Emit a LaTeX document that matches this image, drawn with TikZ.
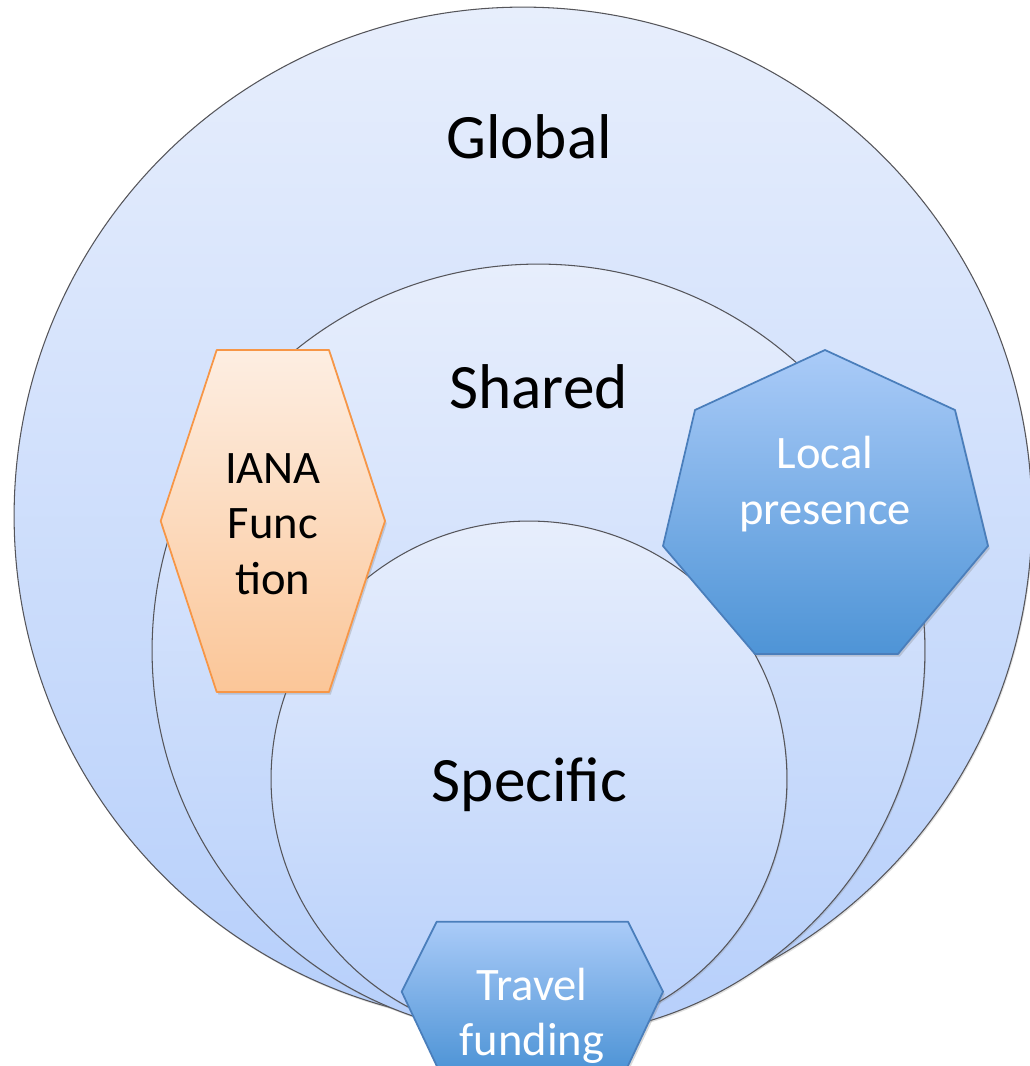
\documentclass[tikz,border=0pt]{standalone}
\usepackage{fontspec}
\setmainfont{Carlito}
\usetikzlibrary{shadows}

\definecolor{ringtop}{RGB}{231,238,252}
\definecolor{ringbot}{RGB}{182,207,251}
\definecolor{ringline}{RGB}{85,85,90}
\definecolor{ianatop}{RGB}{253,238,226}
\definecolor{ianabot}{RGB}{251,198,152}
\definecolor{ianaline}{RGB}{247,150,70}
\definecolor{bluetop}{RGB}{170,203,248}
\definecolor{bluebot}{RGB}{78,148,214}
\definecolor{blueline}{RGB}{74,126,187}

\begin{document}
\begin{tikzpicture}[x=0.02cm, y=-0.02cm,
  ring/.style={circle, draw=ringline, line width=0.6pt, top color=ringtop, bottom color=ringbot, inner sep=0pt, outer sep=0pt, drop shadow={shadow xshift=0.6pt, shadow yshift=-1pt, opacity=0.25}},
  bigtext/.style={font=\fontsize{36}{40}\selectfont, anchor=base},
  ianashape/.style={draw=ianaline, line width=1pt, line join=round, top color=ianatop, bottom color=ianabot, drop shadow={shadow xshift=1pt, shadow yshift=-1.5pt, opacity=0.3}},
  blueshape/.style={draw=blueline, line width=1pt, line join=round, top color=bluetop, bottom color=bluebot, drop shadow={shadow xshift=1pt, shadow yshift=-1.5pt, opacity=0.3}},
  smalltext/.style={font=\fontsize{26.5}{31.5}\selectfont, align=center}]
\useasboundingbox (0,0) rectangle (1030,1066);
\clip (0,0) rectangle (1030,1066);

% nested circles
\node[ring, minimum size=20.36cm] (global) at (523,516) {};
\node[ring, minimum size=15.46cm] (shared) at (538.5,650.5) {};
\node[ring, minimum size=10.32cm] (specific) at (529,779) {};

\node[bigtext] (globaltext) at (529,158) {Global};
\node[bigtext] (sharedtext) at (538.5,408) {Shared};
\node[bigtext] (specifictext) at (529.5,801) {Specific};

% IANA
\draw[ianashape] (216.7,350) -- (329,350) -- (385,521) -- (329,692) -- (216.7,692) -- (160.7,521) -- cycle;
\node[smalltext] (iana) at (273,524) {IANA\\Func\\tion};

% local presence
\draw[blueshape] (825,350) -- (955,410) -- (988,546) -- (898,654) -- (755,654) -- (663,546) -- (695,410) -- cycle;
\node[smalltext, text=white] (local) at (825,484) {Local\\presence};

% travel funding
\draw[blueshape] (436.7,921.7) -- (628,921.7) -- (663,991.7) -- (626,1070) -- (438.7,1070) -- (401.7,991.7) -- cycle;
\node[smalltext, text=white] (travel) at (532,1016) {Travel\\funding};
\end{tikzpicture}
\end{document}
